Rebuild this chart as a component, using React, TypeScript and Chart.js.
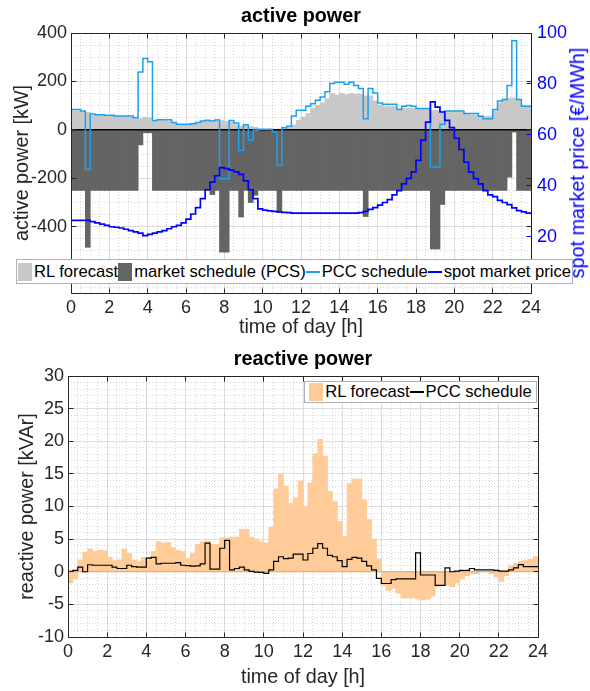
import React, { useEffect, useRef } from 'react';
import { Chart, registerables } from 'chart.js';

Chart.register(...registerables);

const FONT = "'Liberation Sans', Arial, Helvetica, sans-serif";
const AXIS_COLOR = '#262626';
const PRICE_COLOR = '#0000ff';

const HOUR_TICKS = [0, 2, 4, 6, 8, 10, 12, 14, 16, 18, 20, 22, 24];
const ACTIVE_TICKS = [-400, -200, 0, 200, 400];
const PRICE_TICKS = [20, 40, 60, 80, 100];
const REACTIVE_TICKS = [-10, -5, 0, 5, 10, 15, 20, 25, 30];

// 96 quarter-hour slots, slot i covers [i/4, (i+1)/4] h
const RL_ACTIVE = [
  78, 78, 76, 72, 60, 60, 58, 58,
  57, 55, 55, 55, 52, 45, 46, 52,
  50, 38, 38, 38, 36, 28, 20, 20,
  20, 22, 26, 32, 36, 32, 36, 38,
  35, 32, 22, 16, 16, 14, 10, 2,
  2, 2, 0, 3, 5, 12, 20, 39,
  53, 67, 88, 101, 111, 129, 150, 143,
  150, 145, 150, 147, 147, 140, 140, 119,
  102, 96, 96, 96, 81, 88, 88, 88,
  84, 84, 84, 80, 80, 78, 78, 76,
  76, 74, 64, 62, 60, 58, 56, 56,
  78, 111, 124, 131, 131, 125, 100, 97,
];

const MARKET_SCHEDULE = [
  -250, -250, -250, -485, -250, -250, -250, -250,
  -250, -250, -250, -250, -250, -250, -62, -12,
  -12, -250, -250, -250, -250, -250, -250, -250,
  -250, -250, -250, -250, -250, -267, -250, -505,
  -505, -250, -250, -360, -250, -300, -270, -250,
  -250, -250, -250, -340, -250, -250, -250, -250,
  -250, -250, -250, -250, -250, -250, -250, -250,
  -250, -250, -250, -250, -250, -358, -250, -250,
  -250, -250, -250, -250, -250, -250, -250, -250,
  -250, -250, -250, -492, -492, -308, -250, -250,
  -250, -250, -250, -250, -250, -250, -250, -250,
  -250, -250, -250, -195, -9, -250, -250, -250,
];

const PCC_ACTIVE = [
  84, 84, 78, -164, 65, 62, 62, 60,
  60, 57, 57, 57, 57, 50, 239, 295,
  281, 39, 42, 42, 42, 30, 23, 23,
  23, 25, 30, 37, 40, 37, 41, -202,
  -202, 39, 28, -85, 21, -43, -2, 2,
  2, 2, -9, -147, 9, 15, 57, 81,
  81, 97, 108, 122, 136, 157, 191, 197,
  197, 188, 197, 183, 171, 46, 171, 152,
  111, 106, 106, 106, 84, 97, 101, 97,
  88, 88, 88, -154, -154, 23, 78, 78,
  78, 78, 67, 67, 67, 56, 46, 46,
  84, 119, 125, 183, 368, 125, 97, 97,
];

const SPOT_PRICE = [
  26.5, 26.5, 26.5, 26.5, 26, 25.5, 25, 24.5,
  24, 23.8, 23.5, 23, 22.5, 22, 21.5, 20.5,
  21, 21.5, 22, 22.5, 23.2, 24, 24.5, 25.5,
  27, 29, 31.5, 35, 38.5, 41.5, 44, 47.2,
  46.8, 46.2, 45.5, 44.5, 42, 38.5, 35, 31,
  30.5, 30.2, 30, 29.8, 29.6, 29.5, 29.3, 29.3,
  29.3, 29.3, 29.3, 29.3, 29.3, 29.3, 29.3, 29.3,
  29.3, 29.3, 29.3, 29.3, 29.5, 30, 30.8, 31.5,
  32.5, 33.5, 34.6, 36.5, 38.2, 40.8, 43, 45.5,
  50, 58, 65, 73, 70.9, 69, 65.7, 62.9,
  58.7, 54.3, 49.3, 45.4, 42.9, 40.8, 38.2, 36.5,
  35.8, 34.3, 33.5, 32.7, 31.4, 30.3, 29.8, 29.3,
];

const RL_REACTIVE = [
  -1.7, -1.1, 1.8, 3.0, 3.5, 3.1, 3.3, 3.2,
  2.2, 1.7, 1.8, 3.5, 2.8, 1.8, 1.5, 2.2,
  2.2, 3.1, 4.6, 4.4, 4.5, 3.7, 3.3, 3.1,
  2.0, 2.8, 4.2, 4.6, 4.7, 4.2, 4.2, 5.2,
  5.2, 5.3, 5.3, 6.5, 6.5, 5.3, 5.0, 4.6,
  4.4, 6.8, 12.7, 14.9, 13.1, 10.5, 11.3, 13.9,
  10.0, 13.6, 18.1, 20.3, 17.7, 12.3, 10.8, 7.7,
  5.4, 13.5, 14.2, 14.2, 11.0, 8.0, 5.0, 1.9,
  -2.1, -2.9, -2.5, -3.3, -4.0, -4.0, -4.0, -4.2,
  -4.3, -4.2, -3.7, -2.3, -2.1, -2.1, -2.3, -1.7,
  -1.1, -0.6, -0.3, -0.3, 0, 0, -0.3, -0.8,
  -1.5, -0.6, 0.9, 1.3, 1.6, 1.7, 1.9, 2.3,
];

const PCC_REACTIVE = [
  0.05, 0.2, 0.7, 0, 1.07, 1.0, 1.0, 1.0,
  1.0, 0.7, 0.5, 0.5, 1.0, 0.8, 0.7, 0.7,
  2.1, 2.2, 1.2, 1.3, 1.3, 1.3, 1.4, 1.0,
  0.95, 0.85, 0.9, 1.2, 4.4, 0.4, 0.4, 3.6,
  4.8, 0.3, 0.5, 0.7, 0.3, 0.05, -0.05, -0.1,
  -0.25, 0.3, 1.6, 2.3, 2.0, 2.1, 2.7, 2.7,
  1.8, 2.8, 3.6, 4.3, 3.6, 2.5, 2.3, 1.7,
  0.8, 1.9, 2.2, 2.1, 1.6, 0.9, 0.3, -1.0,
  -1.8, -1.8, -1.2, -1.1, -1.1, -1.1, -1.1, 2.9,
  -0.5, -0.5, -0.5, -2.1, -2.1, 0.6, 0, 0.1,
  0.2, 0.2, 0.5, 0.3, 0.3, 0.3, 0.3, 0.2,
  0.1, 0.1, 0.3, 0.6, 1.1, 0.8, 0.8, 0.8,
];

const TOP_LEGEND = [
  { label: 'RL forecast', kind: 'box', color: '#c8c8c8' },
  { label: 'market schedule (PCS)', kind: 'box', color: '#646464' },
  { label: 'PCC schedule', kind: 'line', color: '#1aa0f0' },
  { label: 'spot market price', kind: 'line', color: PRICE_COLOR },
];
const BOTTOM_LEGEND = [
  { label: 'RL forecast', kind: 'box', color: '#ffcc99' },
  { label: 'PCC schedule', kind: 'line', color: '#000000' },
];

const SLOT_H = 0.25;
const barPoints = (vals: number[]) => vals.map((y, i) => ({ x: (i + 0.5) * SLOT_H, y }));
const stairPoints = (vals: number[]) => [
  ...vals.map((y, i) => ({ x: i * SLOT_H, y })),
  { x: vals.length * SLOT_H, y: vals[vals.length - 1] },
];

const align = (v: number) => Math.round(v - 0.5) + 0.5;

type DecorOpts = {
  xMajor: number; xMinor: number;
  yAxis: string; yMajor: number; yMinor: number;
  leftTicks: { axis: string; values: number[]; color: string; mirror: boolean }[];
  rightBorder: string;
};

function decorPlugin(o: DecorOpts) {
  const isMajor = (v: number, step: number) => Math.abs(v / step - Math.round(v / step)) < 1e-6;
  return {
    id: 'decor',
    beforeDatasetsDraw(chart: any) {
      const { ctx, chartArea: a } = chart;
      const xs = chart.scales.x;
      const ys = chart.scales[o.yAxis];
      ctx.save();
      ctx.strokeStyle = 'rgba(0,0,0,0.16)';
      ctx.lineWidth = 1;
      ctx.setLineDash([1, 2]);
      ctx.beginPath();
      for (let k = Math.ceil(xs.min / o.xMinor - 1e-9); k <= Math.floor(xs.max / o.xMinor + 1e-9); k++) {
        const v = k * o.xMinor;
        if (isMajor(v, o.xMajor)) continue;
        const p = align(xs.getPixelForValue(v));
        ctx.moveTo(p, a.top); ctx.lineTo(p, a.bottom);
      }
      for (let k = Math.ceil(ys.min / o.yMinor - 1e-9); k <= Math.floor(ys.max / o.yMinor + 1e-9); k++) {
        const v = k * o.yMinor;
        if (isMajor(v, o.yMajor)) continue;
        const p = align(ys.getPixelForValue(v));
        ctx.moveTo(a.left, p); ctx.lineTo(a.right, p);
      }
      ctx.stroke();
      ctx.restore();
    },
    afterDraw(chart: any) {
      const { ctx, chartArea: a } = chart;
      const xs = chart.scales.x;
      const L = 5;
      const l = align(a.left), r = align(a.right), t = align(a.top), b = align(a.bottom);
      ctx.save();
      ctx.lineWidth = 1;
      ctx.setLineDash([]);
      ctx.strokeStyle = AXIS_COLOR;
      ctx.beginPath();
      xs.ticks.forEach((tk: any) => {
        const p = align(xs.getPixelForValue(tk.value));
        ctx.moveTo(p, b); ctx.lineTo(p, b - L);
        ctx.moveTo(p, t); ctx.lineTo(p, t + L);
      });
      ctx.moveTo(l, t); ctx.lineTo(r, t);
      ctx.moveTo(l, b); ctx.lineTo(r, b);
      ctx.moveTo(l, t); ctx.lineTo(l, b);
      ctx.stroke();
      o.leftTicks.forEach((spec) => {
        const s = chart.scales[spec.axis];
        ctx.strokeStyle = spec.color;
        ctx.beginPath();
        spec.values.forEach((v) => {
          const p = align(s.getPixelForValue(v));
          if (s.position === 'left' || spec.mirror) { ctx.moveTo(l, p); ctx.lineTo(l + L, p); }
          if (s.position === 'right' || spec.mirror) { ctx.moveTo(r, p); ctx.lineTo(r - L, p); }
        });
        ctx.stroke();
      });
      ctx.strokeStyle = o.rightBorder;
      ctx.beginPath();
      ctx.moveTo(r, t); ctx.lineTo(r, b);
      ctx.stroke();
      ctx.restore();
    },
  };
}

const tickFont = { family: FONT, size: 18 };
const labelFont = { family: FONT, size: 19.8 };
const titleFont = { family: FONT, size: 19.8, weight: 'bold' as const };

function fixedTicks(values: number[]) {
  return (s: any) => { s.ticks = values.map((value) => ({ value })); };
}

function topConfig(): any {
  return {
    data: {
      datasets: [
        { type: 'bar', label: 'RL forecast', data: barPoints(RL_ACTIVE), backgroundColor: '#c8c8c8',
          barPercentage: 1, categoryPercentage: 1, grouped: false, inflateAmount: 0.4, yAxisID: 'y', order: 5 },
        { type: 'bar', label: 'market schedule (PCS)', data: barPoints(MARKET_SCHEDULE), backgroundColor: '#646464',
          barPercentage: 1, categoryPercentage: 1, grouped: false, inflateAmount: 0.4, yAxisID: 'y', order: 4 },
        { type: 'line', label: 'baseline', data: [{ x: 0, y: 0 }, { x: 24, y: 0 }], borderColor: '#000000',
          borderWidth: 1.5, pointRadius: 0, yAxisID: 'y', order: 3 },
        { type: 'line', label: 'PCC schedule', data: stairPoints(PCC_ACTIVE), stepped: 'before', borderColor: '#1aa0f0',
          borderWidth: 1.5, pointRadius: 0, yAxisID: 'y', order: 2 },
        { type: 'line', label: 'spot market price', data: stairPoints(SPOT_PRICE), stepped: 'before', borderColor: PRICE_COLOR,
          borderWidth: 1.7, pointRadius: 0, yAxisID: 'y1', order: 1 },
      ],
    },
    options: {
      responsive: false, animation: false, devicePixelRatio: 1,
      layout: { padding: 0 },
      plugins: {
        legend: { display: false }, tooltip: { enabled: false },
        title: { display: true, text: 'active power', fullSize: false, font: titleFont, color: '#000',
          padding: { top: 5.1, bottom: 4.14 } },
      },
      scales: {
        x: {
          type: 'linear', min: 0, max: 24, offset: false,
          afterBuildTicks: fixedTicks(HOUR_TICKS),
          ticks: { font: tickFont, color: AXIS_COLOR, padding: 4, maxRotation: 0, autoSkip: false },
          grid: { color: '#dcdcdc', drawTicks: false, offset: false },
          border: { display: false },
          title: { display: true, text: 'time of day [h]', font: labelFont, color: AXIS_COLOR, padding: { top: 0, bottom: 1 } },
          afterFit: (s: any) => { s.height = 47; },
        },
        y: {
          type: 'linear', position: 'left', min: -674, max: 400,
          afterBuildTicks: fixedTicks(ACTIVE_TICKS),
          ticks: { font: tickFont, color: AXIS_COLOR, padding: 4 },
          grid: { color: '#dcdcdc', drawTicks: false },
          border: { display: false },
          title: { display: true, text: 'active power [kW]', font: labelFont, color: AXIS_COLOR, padding: { top: 10.5, bottom: 0 } },
          afterFit: (s: any) => { s.width = 71; },
        },
        y1: {
          type: 'linear', position: 'right', min: -2, max: 100,
          afterBuildTicks: fixedTicks(PRICE_TICKS),
          ticks: { font: tickFont, color: PRICE_COLOR, padding: 6 },
          grid: { display: false, drawTicks: false },
          border: { display: false },
          afterFit: (s: any) => { s.width = 59; },
        },
      },
    },
    plugins: [decorPlugin({
      xMajor: 2, xMinor: 0.5, yAxis: 'y', yMajor: 200, yMinor: 50,
      leftTicks: [
        { axis: 'y', values: ACTIVE_TICKS, color: AXIS_COLOR, mirror: true },
        { axis: 'y1', values: PRICE_TICKS, color: PRICE_COLOR, mirror: false },
      ],
      rightBorder: PRICE_COLOR,
    })],
  };
}

function bottomConfig(): any {
  return {
    data: {
      datasets: [
        { type: 'bar', label: 'RL forecast', data: barPoints(RL_REACTIVE), backgroundColor: '#ffcc99',
          barPercentage: 1, categoryPercentage: 1, grouped: false, inflateAmount: 0.4, order: 3 },
        { type: 'line', label: 'baseline', data: [{ x: 0, y: 0 }, { x: 24, y: 0 }], borderColor: '#dba675',
          borderWidth: 1.2, pointRadius: 0, order: 2 },
        { type: 'line', label: 'PCC schedule', data: stairPoints(PCC_REACTIVE), stepped: 'before', borderColor: '#000000',
          borderWidth: 1.2, pointRadius: 0, order: 1 },
      ],
    },
    options: {
      responsive: false, animation: false, devicePixelRatio: 1,
      layout: { padding: { left: 0, right: 52, top: 0, bottom: 0 } },
      plugins: {
        legend: { display: false }, tooltip: { enabled: false },
        title: { display: true, text: 'reactive power', fullSize: false, font: titleFont, color: '#000',
          padding: { top: 8.1, bottom: 4.14 } },
      },
      scales: {
        x: {
          type: 'linear', min: 0, max: 24, offset: false,
          afterBuildTicks: fixedTicks(HOUR_TICKS),
          ticks: { font: tickFont, color: AXIS_COLOR, padding: 4, maxRotation: 0, autoSkip: false },
          grid: { color: '#dcdcdc', drawTicks: false, offset: false },
          border: { display: false },
          title: { display: true, text: 'time of day [h]', font: labelFont, color: AXIS_COLOR, padding: { top: 0, bottom: 2 } },
          afterFit: (s: any) => { s.height = 54; },
        },
        y: {
          type: 'linear', position: 'left', min: -10, max: 30,
          afterBuildTicks: fixedTicks(REACTIVE_TICKS),
          ticks: { font: tickFont, color: AXIS_COLOR, padding: 4 },
          grid: { color: '#dcdcdc', drawTicks: false },
          border: { display: false },
          title: { display: true, text: 'reactive power [kVAr]', font: labelFont, color: AXIS_COLOR, padding: { top: 16, bottom: 0 } },
          afterFit: (s: any) => { s.width = 68; },
        },
      },
    },
    plugins: [decorPlugin({
      xMajor: 2, xMinor: 0.5, yAxis: 'y', yMajor: 5, yMinor: 1,
      leftTicks: [{ axis: 'y', values: REACTIVE_TICKS, color: AXIS_COLOR, mirror: true }],
      rightBorder: AXIS_COLOR,
    })],
  };
}

function Legend({ items, style }: { items: typeof TOP_LEGEND; style: React.CSSProperties }) {
  return (
    <div style={{
      position: 'absolute', boxSizing: 'border-box', border: '1px solid #b0b0b0', background: '#fff',
      display: 'flex', alignItems: 'center', justifyContent: 'center', whiteSpace: 'nowrap',
      font: `16.6px ${FONT}`, color: '#000', ...style,
    }}>
      {items.map((it) => (
        <React.Fragment key={it.label}>
          {it.kind === 'box'
            ? <span style={{ display: 'inline-block', width: 14, height: 18, background: it.color, marginRight: 2 }} />
            : <span style={{ display: 'inline-block', width: 14, height: 0, borderTop: `2px solid ${it.color}`, marginRight: 2 }} />}
          <span>{it.label}</span>
        </React.Fragment>
      ))}
    </div>
  );
}

export default function App() {
  const topRef = useRef<HTMLCanvasElement>(null);
  const botRef = useRef<HTMLCanvasElement>(null);
  useEffect(() => {
    const c1 = new Chart(topRef.current as HTMLCanvasElement, topConfig());
    const c2 = new Chart(botRef.current as HTMLCanvasElement, bottomConfig());
    return () => { c1.destroy(); c2.destroy(); };
  }, []);
  return (
    <div style={{ position: 'absolute', left: 0, top: 0, width: 590, height: 691, background: '#fff', overflow: 'hidden' }}>
      <canvas ref={topRef} width={590} height={340} style={{ position: 'absolute', left: 0, top: 0 }} />
      <canvas ref={botRef} width={590} height={351} style={{ position: 'absolute', left: 0, top: 340 }} />
      <div style={{
        position: 'absolute', left: 578, top: 163, transform: 'translate(-50%, -50%) rotate(-90deg)',
        whiteSpace: 'nowrap', font: `19.8px ${FONT}`, color: PRICE_COLOR, lineHeight: 1,
      }}>spot market price [€/MWh]</div>
      <Legend items={TOP_LEGEND} style={{ left: 16, top: 259, width: 557, height: 25 }} />
      <Legend items={BOTTOM_LEGEND} style={{ left: 304, top: 381, width: 233, height: 22 }} />
    </div>
  );
}
